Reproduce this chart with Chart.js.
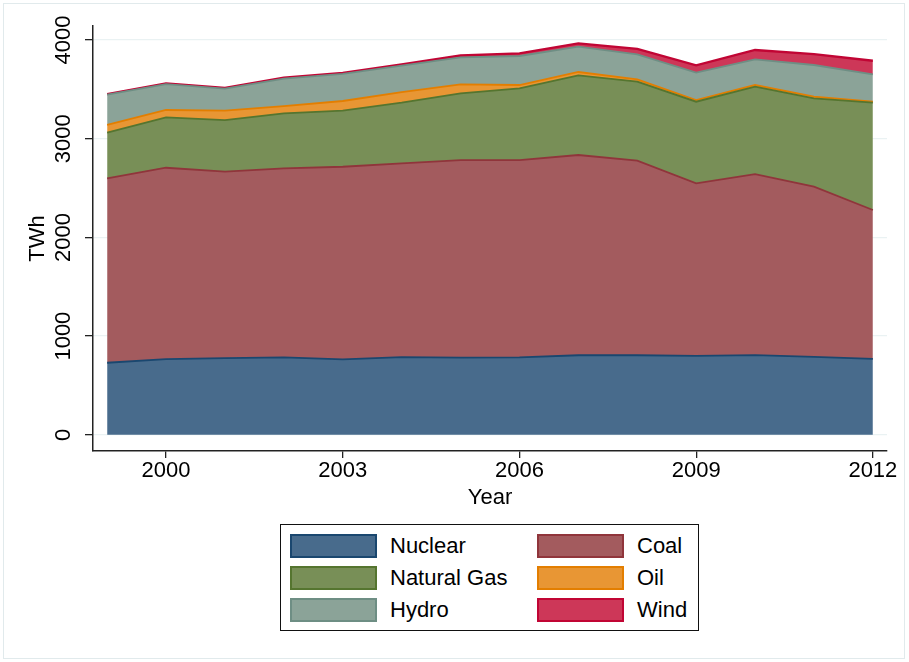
<!DOCTYPE html>
<html>
<head>
<meta charset="utf-8">
<script src="https://cdn.jsdelivr.net/npm/chart.js@4"></script>
<style>
  body { margin: 0; background: #fff; }
  #wrap { position: relative; width: 909px; height: 662px; font-family: "Liberation Sans", Arial, sans-serif; }
  #frame { position: absolute; left: 3px; top: 3px; width: 900px; height: 654px; border: 1px solid #e1eaec; pointer-events: none; }
  #legend { position: absolute; left: 280px; top: 524px; width: 417px; height: 105px; border: 1.5px solid #111; background: #fff; }
  .item { position: absolute; height: 24px; display: flex; align-items: center; font-size: 22px; color: #000; }
  .swatch { width: 83px; height: 20px; border: 2px solid; margin-right: 13px; }
</style>
</head>
<body>
<div id="wrap">
  <canvas id="energyChart" width="909" height="662"></canvas>
  <div id="frame"></div>
  <div id="legend"></div>
</div>
<script>
// data (TWh)
const years = [1999, 2000, 2001, 2002, 2003, 2004, 2005, 2006, 2007, 2008, 2009, 2010, 2011, 2012];
const nuclear = [730, 767, 778, 785, 764, 788, 782, 785, 806, 806, 799, 807, 790, 769];
const coal = [1869, 1939, 1888, 1915, 1952, 1963, 2002, 1999, 2029, 1971, 1749, 1835, 1724, 1509];
const naturalGas = [462, 511, 523, 557, 568, 614, 676, 727, 807, 801, 827, 885, 895, 1087];
const oil = [78, 74, 95, 74, 98, 108, 91, 33, 34, 24, 17, 17, 17, 10];
const hydro = [307, 263, 223, 277, 274, 267, 274, 294, 256, 253, 277, 260, 321, 277];
const wind = [5, 6, 7, 10, 11, 14, 18, 27, 34, 55, 74, 95, 111, 138];

const xTicks = [2000, 2003, 2006, 2009, 2012];
const yTicks = [0, 1000, 2000, 3000, 4000];

const FONT = '"Liberation Sans", Arial, sans-serif';

function series(label, values, fill, line, fillTo, width) {
    return {
        label: label,
        data: years.map((yr, i) => ({ x: yr, y: values[i] })),
        backgroundColor: fill,
        borderColor: line,
        borderWidth: width,
        pointRadius: 0,
        tension: 0,
        fill: fillTo
    };
}

const datasets = [
    series('Nuclear', nuclear, '#486b8c', '#1a476f', 'origin', 1.8),
    series('Coal', coal, '#a35b5e', '#90353b', '-1', 1.8),
    series('Natural Gas', naturalGas, '#788f57', '#55752f', '-1', 1.8),
    series('Oil', oil, '#e89634', '#e37e00', '-1', 1.8),
    series('Hydro', hydro, '#8ba398', '#6e8e84', '-1', 1.8),
    series('Wind', wind, '#cd3758', '#c10534', '-1', 2.3)
];

// y tick labels are rotated like the original, drawn at the scale's tick positions
const rotatedYLabels = {
    id: 'rotatedYLabels',
    afterDraw(chart) {
        const scale = chart.scales.y;
        const ctx = chart.ctx;
        ctx.save();
        ctx.font = '22px ' + FONT;
        ctx.fillStyle = '#000';
        ctx.textAlign = 'center';
        ctx.textBaseline = 'middle';
        scale.ticks.forEach(t => {
            const py = scale.getPixelForValue(t.value);
            ctx.save();
            ctx.translate(64, py);
            ctx.rotate(-Math.PI / 2);
            ctx.fillText(String(t.value), 0, 0);
            ctx.restore();
        });
        ctx.restore();
    }
};

const chart = new Chart(document.getElementById('energyChart'), {
    type: 'line',
    data: { datasets: datasets },
    options: {
        responsive: false,
        animation: false,
        layout: { padding: { left: 0, right: 22, top: 26, bottom: 151 } },
        plugins: {
            legend: { display: false },
            tooltip: { enabled: false }
        },
        scales: {
            x: {
                type: 'linear',
                min: 1998.76,
                max: 2012.24,
                afterBuildTicks: s => { s.ticks = xTicks.map(v => ({ value: v })); },
                afterFit: s => { s.height = 60; s.paddingLeft = 0; s.paddingRight = 0; },
                grid: { drawOnChartArea: false, drawTicks: true, tickLength: 7, tickColor: '#222', lineWidth: 1.3 },
                border: { display: true, color: '#222', width: 1.5 },
                ticks: { color: '#000', padding: 0, maxRotation: 0, font: { size: 22, family: FONT }, callback: v => String(v) },
                title: { display: true, text: 'Year', color: '#000', font: { size: 22, family: FONT }, padding: { top: 0, bottom: 0 } }
            },
            y: {
                stacked: true,
                min: -164,
                max: 4142,
                afterBuildTicks: s => { s.ticks = yTicks.map(v => ({ value: v })); },
                afterFit: s => { s.width = 93; s.paddingTop = 0; s.paddingBottom = 0; },
                grid: { color: '#eaf2f3', lineWidth: 1.3, drawTicks: true, tickLength: 8, tickColor: '#222' },
                border: { display: true, color: '#222', width: 1.5 },
                ticks: { display: false, callback: v => String(v) },
                title: { display: true, text: 'TWh', color: '#000', font: { size: 22, family: FONT }, padding: { top: 25, bottom: 0 } }
            }
        }
    },
    plugins: [rotatedYLabels]
});

// legend in two columns, built from the chart's datasets
const legend = document.getElementById('legend');
chart.data.datasets.forEach((ds, i) => {
    const item = document.createElement('div');
    item.className = 'item';
    item.style.left = (9 + (i % 2) * 247) + 'px';
    item.style.top = (9 + Math.floor(i / 2) * 32) + 'px';
    const sw = document.createElement('div');
    sw.className = 'swatch';
    sw.style.background = ds.backgroundColor;
    sw.style.borderColor = ds.borderColor;
    const tx = document.createElement('span');
    tx.textContent = ds.label;
    item.appendChild(sw);
    item.appendChild(tx);
    legend.appendChild(item);
});
</script>
</body>
</html>
